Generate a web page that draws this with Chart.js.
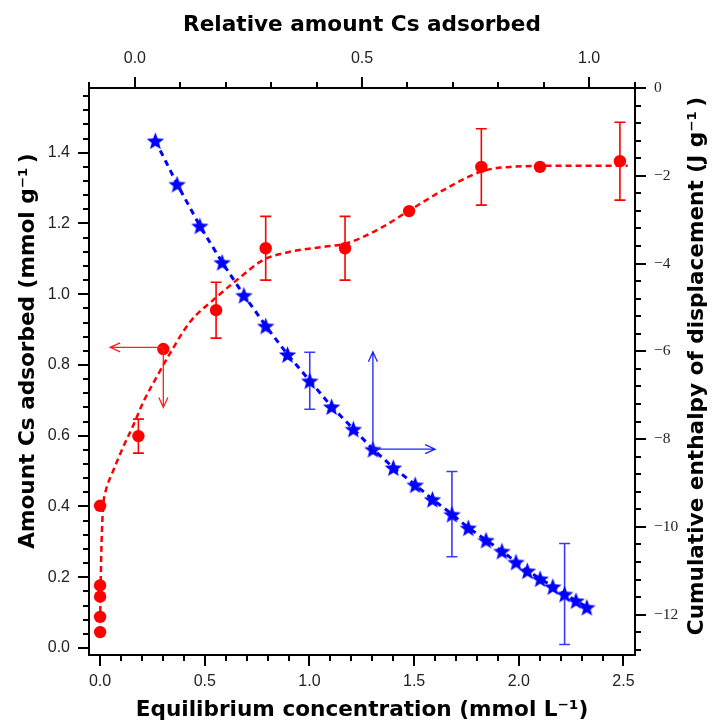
<!DOCTYPE html>
<html>
<head>
<meta charset="utf-8">
<script src="https://cdn.jsdelivr.net/npm/chart.js@4.4.0/dist/chart.umd.min.js"></script>
<style>
    html, body { margin: 0; padding: 0; background: #fff; }
    #wrap { width: 718px; height: 722px; }
</style>
</head>
<body>
<div id="wrap"><canvas id="chart" width="718" height="722"></canvas></div>
<script>
// --- Data: Cs adsorption (left / bottom axes) ---
const CONC = [0, 0, 0, 0, 0, 0.183, 0.302, 0.554, 0.791, 1.170, 1.476, 1.821, 2.101, 2.483];
const ADSORBED = [0.045, 0.088, 0.145, 0.177, 0.402, 0.599, 0.845, 0.955, 1.130, 1.130, 1.235, 1.360, 1.360, 1.376];
const ADSORBED_ERR = [0, 0, 0, 0, 0, 0.048, 0, 0.079, 0.09, 0.09, 0, 0.108, 0, 0.11];

// dashed fit curve
const FIT_CONC = [0.000, 0.002, 0.005, 0.010, 0.016, 0.025, 0.064, 0.111, 0.159, 0.207, 0.271, 0.334, 0.430, 0.541, 0.653, 0.780, 0.907, 1.067, 1.178, 1.337, 1.480, 1.656, 1.821, 1.958, 2.212, 2.520];
const FIT_ADSORBED = [0.045, 0.150, 0.250, 0.350, 0.410, 0.440, 0.503, 0.569, 0.630, 0.696, 0.767, 0.833, 0.922, 0.984, 1.040, 1.097, 1.120, 1.134, 1.144, 1.186, 1.238, 1.300, 1.347, 1.360, 1.363, 1.363];

// --- Data: enthalpy of displacement (top / right axes) ---
const REL_AMOUNT = [0.045, 0.093, 0.143, 0.192, 0.240, 0.288, 0.336, 0.385, 0.433, 0.481, 0.524, 0.569, 0.617, 0.655, 0.698, 0.734, 0.773, 0.808, 0.839, 0.864, 0.892, 0.920, 0.946, 0.971, 0.995];
const ENTHALPY = [-1.20, -2.19, -3.14, -3.97, -4.72, -5.42, -6.07, -6.67, -7.26, -7.77, -8.23, -8.65, -9.04, -9.37, -9.71, -10.02, -10.30, -10.55, -10.80, -11.00, -11.18, -11.36, -11.53, -11.68, -11.83];
const ENTHALPY_ERR = [0, 0, 0, 0, 0, 0, 0, 0.65, 0, 0, 0, 0, 0, 0, 0.97, 0, 0, 0, 0, 0, 0, 0, 1.15, 0, 0];

// --- Axis ticks ---
const CONC_TICKS = [0, 0.5, 1.0, 1.5, 2.0, 2.5];
const ADS_TICKS = [0, 0.2, 0.4, 0.6, 0.8, 1.0, 1.2, 1.4];
const REL_TICKS = [0, 0.5, 1.0];
const ENTH_TICKS = [0, -2, -4, -6, -8, -10, -12];

// arrows pointing each series to its axes
const ARROWS = [
    { x: 'x', y: 'y', from: [0.302, 0.850], to: [0.048, 0.850], color: '#ff2020' },
    { x: 'x', y: 'y', from: [0.302, 0.845], to: [0.302, 0.680], color: '#ff2020' },
    { x: 'x2', y: 'y2', from: [0.524, -8.23], to: [0.524, -6.01], color: '#2020ff' },
    { x: 'x2', y: 'y2', from: [0.524, -8.23], to: [0.661, -8.23], color: '#2020ff' }
];

const RED = '#ff0000';
const BLUE = '#0000ff';

function xy(xs, ys) {
    return xs.map((x, i) => ({ x, y: ys[i] }));
}

function makeStar(R, r, color) {
    const size = Math.ceil(2 * R + 2);
    const c = document.createElement('canvas');
    c.width = size; c.height = size;
    const g = c.getContext('2d');
    g.fillStyle = color;
    g.beginPath();
    for (let i = 0; i < 10; i++) {
        const rad = i % 2 ? r : R;
        const a = -Math.PI / 2 + i * Math.PI / 5;
        g.lineTo(size / 2 + rad * Math.cos(a), size / 2 + 1 + rad * Math.sin(a));
    }
    g.closePath();
    g.fill();
    return c;
}

// --- Plugins ---
const TICK_MARKS = {
    x: { major: CONC_TICKS, step: 0.1, side: 'bottom' },
    y: { major: ADS_TICKS, step: 0.04, side: 'left' },
    x2: { major: REL_TICKS, step: 0.1, side: 'top' },
    y2: { major: ENTH_TICKS, step: 0.4, side: 'right' }
};

const tickMarks = {
    id: 'tickMarks',
    afterDraw(chart) {
        const { ctx, chartArea: a } = chart;
        ctx.save();
        ctx.strokeStyle = '#000';
        ctx.lineWidth = 2;
        Object.entries(TICK_MARKS).forEach(([id, cfg]) => {
            const sc = chart.scales[id];
            const k0 = Math.ceil(sc.min / cfg.step - 1e-6);
            const k1 = Math.floor(sc.max / cfg.step + 1e-6);
            for (let k = k0; k <= k1; k++) {
                const v = k * cfg.step;
                const isMajor = cfg.major.some(m => Math.abs(m - v) < 1e-6);
                const len = isMajor ? 11 : 6;
                const p = Math.round(sc.getPixelForValue(v));
                ctx.beginPath();
                if (cfg.side === 'bottom') { ctx.moveTo(p, a.bottom); ctx.lineTo(p, a.bottom + len); }
                if (cfg.side === 'top') { ctx.moveTo(p, a.top); ctx.lineTo(p, a.top - len); }
                if (cfg.side === 'left') { ctx.moveTo(a.left, p); ctx.lineTo(a.left - len, p); }
                if (cfg.side === 'right') { ctx.moveTo(a.right, p); ctx.lineTo(a.right + len, p); }
                ctx.stroke();
            }
        });
        ctx.restore();
    }
};

const errorBars = {
    id: 'errorBars',
    beforeDatasetsDraw(chart) {
        const { ctx } = chart;
        ctx.save();
        chart.data.datasets.forEach(ds => {
            if (!ds.errors) return;
            const sx = chart.scales[ds.xAxisID], sy = chart.scales[ds.yAxisID];
            ctx.strokeStyle = ds.errorColor;
            ctx.lineWidth = 1.6;
            ds.data.forEach((pt, i) => {
                const e = ds.errors[i];
                if (!e) return;
                const px = sx.getPixelForValue(pt.x);
                const top = sy.getPixelForValue(pt.y + e);
                const bot = sy.getPixelForValue(pt.y - e);
                ctx.beginPath();
                ctx.moveTo(px, top); ctx.lineTo(px, bot);
                ctx.moveTo(px - 5.5, top); ctx.lineTo(px + 5.5, top);
                ctx.moveTo(px - 5.5, bot); ctx.lineTo(px + 5.5, bot);
                ctx.stroke();
            });
        });
        ctx.restore();
    }
};

const arrows = {
    id: 'arrows',
    afterDatasetsDraw(chart) {
        const { ctx } = chart;
        ctx.save();
        ctx.lineWidth = 1.3;
        ARROWS.forEach(ar => {
            const sx = chart.scales[ar.x], sy = chart.scales[ar.y];
            const x0 = sx.getPixelForValue(ar.from[0]), y0 = sy.getPixelForValue(ar.from[1]);
            const x1 = sx.getPixelForValue(ar.to[0]), y1 = sy.getPixelForValue(ar.to[1]);
            const ang = Math.atan2(y1 - y0, x1 - x0);
            ctx.strokeStyle = ar.color;
            ctx.beginPath();
            ctx.moveTo(x0, y0); ctx.lineTo(x1, y1);
            ctx.moveTo(x1 - 10 * Math.cos(ang) + 4.5 * Math.sin(ang), y1 - 10 * Math.sin(ang) - 4.5 * Math.cos(ang));
            ctx.lineTo(x1, y1);
            ctx.lineTo(x1 - 10 * Math.cos(ang) - 4.5 * Math.sin(ang), y1 - 10 * Math.sin(ang) + 4.5 * Math.cos(ang));
            ctx.stroke();
        });
        ctx.restore();
    }
};

const axisTitles = {
    id: 'axisTitles',
    afterDraw(chart) {
        const { ctx, chartArea: a } = chart;
        const cx = (a.left + a.right) / 2;
        const items = [
            { text: 'Relative amount Cs adsorbed', x: cx, y: 25, rot: 0 },
            { text: 'Equilibrium concentration (mmol L\u207B\u00B9)', x: cx, y: 710, rot: 0 },
            { text: 'Amount Cs adsorbed (mmol g\u207B\u00B9\u2009)', x: 28, y: 351, rot: -Math.PI / 2 },
            { text: 'Cumulative enthalpy of displacement (J g\u207B\u00B9\u2009)', x: 697, y: 366, rot: -Math.PI / 2 }
        ];
        ctx.save();
        ctx.fillStyle = '#000';
        ctx.font = 'bold 21.6px "DejaVu Sans"';
        ctx.textAlign = 'center';
        ctx.textBaseline = 'middle';
        items.forEach(t => {
            ctx.save();
            ctx.translate(t.x, t.y);
            ctx.rotate(t.rot);
            ctx.fillText(t.text, 0, 0);
            ctx.restore();
        });
        ctx.restore();
    }
};

// --- Chart ---
function fixedTicks(values) {
    return scale => { scale.ticks = values.map(v => ({ value: v })); };
}

const sansTicks = { family: 'Liberation Sans', size: 16 };
const border = { display: true, color: '#000', width: 2 };

new Chart(document.getElementById('chart').getContext('2d'), {
    type: 'scatter',
    data: {
        datasets: [
            {
                label: 'fit',
                data: xy(FIT_CONC, FIT_ADSORBED),
                xAxisID: 'x', yAxisID: 'y',
                showLine: true,
                borderColor: RED,
                borderWidth: 2.5,
                borderDash: [6, 4],
                pointRadius: 0,
                cubicInterpolationMode: 'monotone'
            },
            {
                label: 'Enthalpy',
                data: xy(REL_AMOUNT, ENTHALPY),
                errors: ENTHALPY_ERR,
                errorColor: '#3a3aff',
                xAxisID: 'x2', yAxisID: 'y2',
                showLine: true,
                borderColor: BLUE,
                borderWidth: 3,
                borderDash: [6, 5],
                pointStyle: makeStar(9.2, 3.9, BLUE),
                pointRadius: 9
            },
            {
                label: 'Adsorbed',
                data: xy(CONC, ADSORBED),
                errors: ADSORBED_ERR,
                errorColor: RED,
                xAxisID: 'x', yAxisID: 'y',
                showLine: false,
                backgroundColor: RED,
                borderColor: RED,
                borderWidth: 0,
                pointRadius: 6.2
            }
        ]
    },
    options: {
        responsive: false,
        animation: false,
        devicePixelRatio: 1,
        layout: { padding: 0 },
        plugins: { legend: { display: false }, tooltip: { enabled: false } },
        scales: {
            x: {
                type: 'linear', position: 'bottom',
                min: -0.053, max: 2.555,
                afterBuildTicks: fixedTicks(CONC_TICKS),
                afterFit: s => { s.height = 67; },
                grid: { display: false, drawTicks: false },
                border,
                ticks: { font: sansTicks, color: '#222', padding: 17, maxRotation: 0, autoSkip: false,
                         callback: v => v.toFixed(1) }
            },
            x2: {
                type: 'linear', position: 'top',
                min: -0.101, max: 1.101,
                afterBuildTicks: fixedTicks(REL_TICKS),
                afterFit: s => { s.height = 88; },
                grid: { display: false, drawTicks: false },
                border,
                ticks: { font: sansTicks, color: '#222', padding: 20, maxRotation: 0, autoSkip: false,
                         callback: v => v.toFixed(1) }
            },
            y: {
                type: 'linear', position: 'left',
                min: -0.0198, max: 1.583,
                afterBuildTicks: fixedTicks(ADS_TICKS),
                afterFit: s => { s.width = 89; },
                grid: { display: false, drawTicks: false },
                border,
                ticks: { font: sansTicks, color: '#222', padding: 19, autoSkip: false,
                         callback: v => v.toFixed(1) }
            },
            y2: {
                type: 'linear', position: 'right',
                min: -12.92, max: 0,
                afterBuildTicks: fixedTicks(ENTH_TICKS),
                afterFit: s => { s.width = 83; },
                grid: { display: false, drawTicks: false },
                border,
                ticks: { font: { family: 'Liberation Serif', size: 15.5 }, color: '#222', padding: 19, autoSkip: false,
                         callback: v => (v < 0 ? '\u2212' + Math.abs(v) : String(v)) }
            }
        }
    },
    plugins: [tickMarks, errorBars, arrows, axisTitles]
});
</script>
</body>
</html>
